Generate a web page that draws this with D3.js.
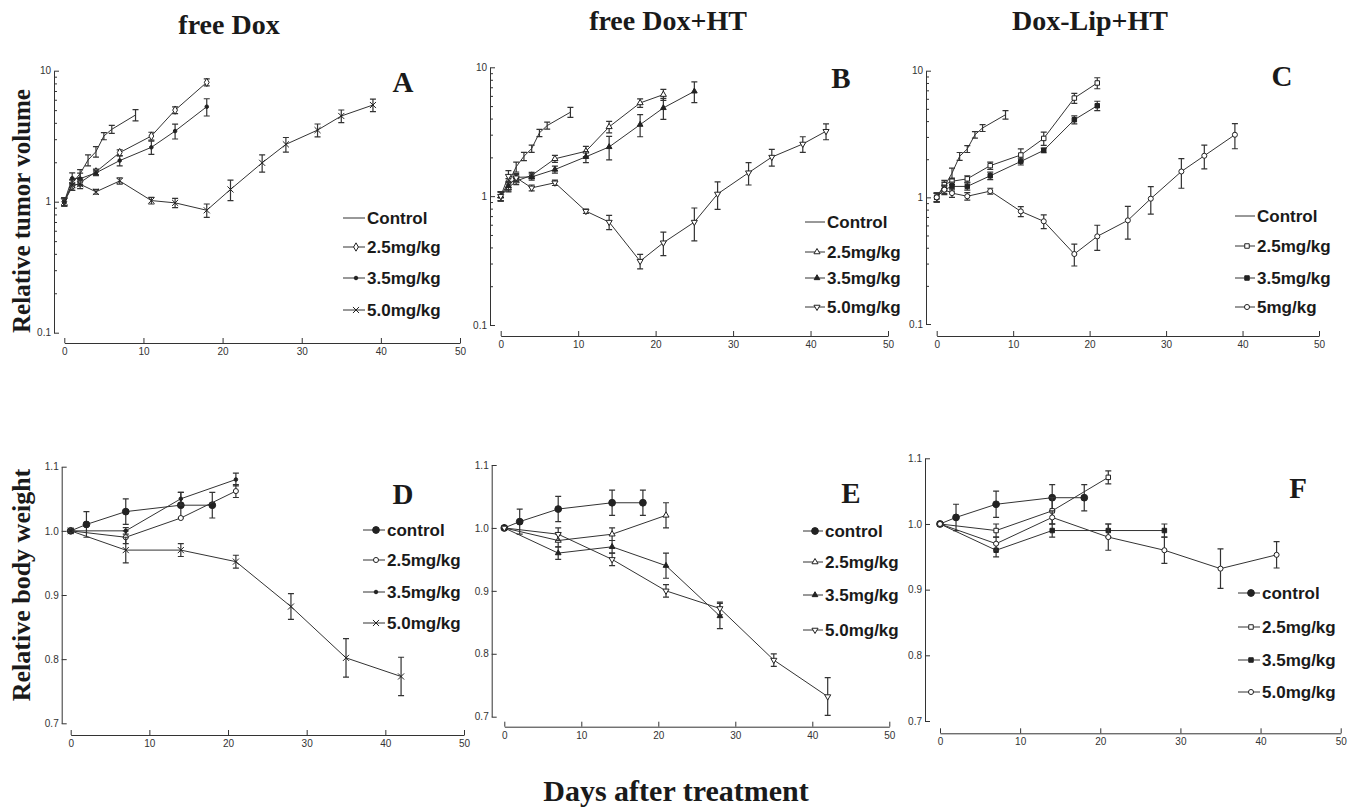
<!DOCTYPE html>
<html lang="en">
<head>
    <meta charset="UTF-8">
    <title>Relative tumor volume and body weight</title>
    <style>
        body { margin: 0; background: #fff; }
        svg { display: block; }
        .tick text { font-family: "Liberation Sans", Arial, sans-serif; font-size: 10px; fill: #333; }
        .domain, .tick line { stroke: #333; stroke-width: 1; }
        .title { font-family: "Liberation Serif", "Times New Roman", serif; font-weight: bold; fill: #1a1a1a; }
        .legend text { font-family: "Liberation Sans", Arial, sans-serif; font-weight: bold; font-size: 17px; fill: #1a1a1a; }
    </style>
    <script src="https://d3js.org/d3.v7.min.js"></script>
</head>
<body>
<svg width="1357" height="808"></svg>
<script>
// days
const tumorCtrlDays = [0, 1, 2, 3, 4, 5, 6, 9];
const tumorDoseDays = [0, 1, 2, 4, 7, 11, 14, 18, 21, 25, 28, 32, 35, 39, 42];
const weightCtrlDays = [0, 2, 7, 14, 18];
const weightDoseDays = [0, 7, 14, 21, 28, 35, 42];

// A: free Dox, tumor volume
const ctrlA = [1.0, 1.38, 1.64, 2.08, 2.41, 3.17, 3.57, 4.59];
const ctrlAErr = [0.07, 0.1, 0.12, 0.2, 0.22, 0.2, 0.25, 0.45];
const d25A = [1.0, 1.30, 1.40, 1.69, 2.37, 3.17, 5.0, 8.15];
const d25AErr = [0.07, 0.08, 0.08, 0.08, 0.12, 0.22, 0.3, 0.5];
const d35A = [1.0, 1.51, 1.50, 1.66, 2.06, 2.60, 3.46, 5.31];
const d35AErr = [0.07, 0.15, 0.15, 0.08, 0.18, 0.3, 0.45, 0.8];
const d50A = [1.0, 1.34, 1.36, 1.19, 1.44, 1.02, 0.98, 0.86, 1.24, 1.98, 2.74, 3.52, 4.51, 5.47];
const d50AErr = [0.07, 0.12, 0.1, 0.05, 0.08, 0.06, 0.08, 0.1, 0.22, 0.3, 0.35, 0.4, 0.5, 0.6];

// B: free Dox+HT, tumor volume
const ctrlB = [1.0, 1.27, 1.69, 2.04, 2.34, 3.10, 3.53, 4.48];
const ctrlBErr = [0.08, 0.1, 0.15, 0.15, 0.15, 0.2, 0.22, 0.4];
const d25B = [1.0, 1.16, 1.31, 1.45, 1.95, 2.23, 3.45, 5.29, 6.14];
const d25BErr = [0.08, 0.08, 0.08, 0.08, 0.12, 0.2, 0.35, 0.4, 0.6];
const d35B = [1.0, 1.20, 1.40, 1.41, 1.61, 2.02, 2.41, 3.59, 4.84, 6.51];
const d35BErr = [0.08, 0.1, 0.1, 0.08, 0.1, 0.2, 0.5, 0.7, 0.9, 1.2];
const d50B = [1.0, 1.43, 1.39, 1.16, 1.27, 0.765, 0.629, 0.313, 0.435, 0.629, 1.04, 1.52, 2.01, 2.54, 3.19];
const d50BErr = [0.08, 0.15, 0.08, 0.06, 0.06, 0.03, 0.08, 0.04, 0.09, 0.18, 0.25, 0.3, 0.3, 0.35, 0.45];

// C: Dox-Lip+HT, tumor volume
const ctrlC = [1.0, 1.22, 1.55, 2.11, 2.41, 3.12, 3.53, 4.49];
const ctrlCErr = [0.08, 0.1, 0.15, 0.15, 0.15, 0.18, 0.22, 0.35];
const d25C = [1.0, 1.26, 1.34, 1.40, 1.78, 2.16, 2.92, 6.08, 8.0];
const d25CErr = [0.08, 0.1, 0.08, 0.08, 0.12, 0.25, 0.35, 0.55, 0.8];
const d35C = [1.0, 1.15, 1.22, 1.22, 1.48, 1.92, 2.35, 4.10, 5.29];
const d35CErr = [0.08, 0.1, 0.1, 0.08, 0.1, 0.12, 0.1, 0.3, 0.45];
const d50C = [1.0, 1.15, 1.08, 1.02, 1.12, 0.775, 0.647, 0.357, 0.492, 0.658, 0.976, 1.60, 2.13, 3.12];
const d50CErr = [0.08, 0.08, 0.08, 0.07, 0.06, 0.07, 0.08, 0.07, 0.11, 0.19, 0.24, 0.42, 0.45, 0.7];

// D: free Dox, body weight
const ctrlD = [1.0, 1.01, 1.03, 1.04, 1.04];
const ctrlDErr = [0, 0.02, 0.02, 0.02, 0.02];
const d25D = [1.0, 0.99, 1.02, 1.062];
const d25DErr = [0, 0.01, 0.0, 0.01];
const d35D = [1.0, 1.0, 1.05, 1.08];
const d35DErr = [0, 0.005, 0.01, 0.01];
const d50D = [1.0, 0.97, 0.97, 0.952, 0.882, 0.802, 0.773];
const d50DErr = [0, 0.02, 0.01, 0.01, 0.02, 0.03, 0.03];

// E: free Dox+HT, body weight
const ctrlE = [1.0, 1.01, 1.03, 1.04, 1.04];
const ctrlEErr = [0, 0.02, 0.02, 0.02, 0.02];
const d25E = [1.0, 0.98, 0.99, 1.02];
const d25EErr = [0, 0.01, 0.01, 0.02];
const d35E = [1.0, 0.96, 0.97, 0.94, 0.86];
const d35EErr = [0, 0.01, 0.01, 0.02, 0.02];
const d50E = [1.0, 0.99, 0.95, 0.90, 0.872, 0.79, 0.732];
const d50EErr = [0, 0.01, 0.01, 0.01, 0.01, 0.01, 0.03];

// F: Dox-Lip+HT, body weight
const ctrlF = [1.0, 1.01, 1.03, 1.04, 1.04];
const ctrlFErr = [0, 0.02, 0.02, 0.02, 0.02];
const d25F = [1.0, 0.99, 1.02, 1.071];
const d25FErr = [0, 0.01, 0.02, 0.01];
const d35F = [1.0, 0.96, 0.99, 0.99, 0.99];
const d35FErr = [0, 0.01, 0.01, 0.01, 0.01];
const d50F = [1.0, 0.97, 1.01, 0.98, 0.96, 0.932, 0.953];
const d50FErr = [0, 0.01, 0.01, 0.02, 0.02, 0.03, 0.02];

const columnTitles = ["free Dox", "free Dox+HT", "Dox-Lip+HT"];
const tumorLabels = ["Control", "2.5mg/kg", "3.5mg/kg", "5.0mg/kg"];
const tumorLabelsC = ["Control", "2.5mg/kg", "3.5mg/kg", "5mg/kg"];
const weightLabels = ["control", "2.5mg/kg", "3.5mg/kg", "5.0mg/kg"];
const xTicks = [0, 10, 20, 30, 40, 50];
const logTicks = [0.1, 1, 10];
const linTicks = [0.7, 0.8, 0.9, 1.0, 1.1];

const svg = d3.select("svg");
const ink = "#222";

// build series from the arrays
function series(days, vals, errs, marker) {
    return { marker, pts: vals.map((v, i) => ({ d: days[i], v, e: errs[i] })) };
}

const panels = [
    { letter: "A", log: true, labels: tumorLabels,
      x: [64.3, 460], y: [332.7, 70.7], axX: 54, axY: 343, letterPos: [403, 92],
      leg: { x0: 343, x1: 365, ys: [218, 247, 278, 310] },
      series: [series(tumorCtrlDays, ctrlA, ctrlAErr, "none"),
               series(tumorDoseDays, d25A, d25AErr, "diamondOpen"),
               series(tumorDoseDays, d35A, d35AErr, "dot"),
               series(tumorDoseDays, d50A, d50AErr, "cross")] },
    { letter: "B", log: true, labels: tumorLabels,
      x: [500.7, 888], y: [325, 67.3], axX: 490, axY: 336, letterPos: [841, 88],
      leg: { x0: 805, x1: 825, ys: [222, 252, 278, 307] },
      series: [series(tumorCtrlDays, ctrlB, ctrlBErr, "none"),
               series(tumorDoseDays, d25B, d25BErr, "triUpOpen"),
               series(tumorDoseDays, d35B, d35BErr, "triUpFilled"),
               series(tumorDoseDays, d50B, d50BErr, "triDownOpen")] },
    { letter: "C", log: true, labels: tumorLabelsC,
      x: [936.7, 1319], y: [324, 70.7], axX: 926, axY: 336, letterPos: [1282, 86],
      leg: { x0: 1235, x1: 1255, ys: [216, 246, 278, 307] },
      series: [series(tumorCtrlDays, ctrlC, ctrlCErr, "none"),
               series(tumorDoseDays, d25C, d25CErr, "squareOpen"),
               series(tumorDoseDays, d35C, d35CErr, "squareFilled"),
               series(tumorDoseDays, d50C, d50CErr, "circleOpen")] },
    { letter: "D", log: false, labels: weightLabels,
      x: [70.7, 464], y: [723.3, 466.7], axX: 61.7, axY: 735, letterPos: [403, 504],
      leg: { x0: 363, x1: 385, ys: [530, 560, 592, 623] },
      series: [series(weightCtrlDays, ctrlD, ctrlDErr, "bigDot"),
               series(weightDoseDays, d25D, d25DErr, "circleOpen"),
               series(weightDoseDays, d35D, d35DErr, "dot"),
               series(weightDoseDays, d50D, d50DErr, "cross")] },
    { letter: "E", log: false, labels: weightLabels,
      x: [504.3, 889.3], y: [716.7, 465], axX: 491.7, axY: 726.7, letterPos: [851, 503],
      leg: { x0: 803, x1: 823, ys: [531, 562, 595, 630] },
      series: [series(weightCtrlDays, ctrlE, ctrlEErr, "bigDot"),
               series(weightDoseDays, d25E, d25EErr, "triUpOpen"),
               series(weightDoseDays, d35E, d35EErr, "triUpFilled"),
               series(weightDoseDays, d50E, d50EErr, "triDownOpen")] },
    { letter: "F", log: false, labels: weightLabels,
      x: [940, 1340.7], y: [721, 458.3], axX: 925, axY: 733.3, letterPos: [1298, 498],
      leg: { x0: 1238, x1: 1260, ys: [593, 627, 660, 692] },
      series: [series(weightCtrlDays, ctrlF, ctrlFErr, "bigDot"),
               series(weightDoseDays, d25F, d25FErr, "squareOpen"),
               series(weightDoseDays, d35F, d35FErr, "squareFilled"),
               series(weightDoseDays, d50F, d50FErr, "circleOpen")] }
];

// marker shapes
function drawMarker(g, type, cx, cy) {
    const sym = {
        diamondOpen: [d3.symbolDiamond, 20, false],
        dot: [d3.symbolCircle, 10, true],
        cross: [d3.symbolX, 26, false],
        triUpOpen: [d3.symbolTriangle, 16, false],
        triUpFilled: [d3.symbolTriangle, 14, true],
        triDownOpen: [d3.symbolTriangle, 16, false],
        squareOpen: [d3.symbolSquare, 20, false],
        squareFilled: [d3.symbolSquare, 20, true],
        circleOpen: [d3.symbolCircle, 20, false],
        bigDot: [d3.symbolCircle, 36, true]
    }[type];
    if (!sym) return;
    const rot = type === "triDownOpen" ? " rotate(180)" : "";
    g.append("path")
        .attr("d", d3.symbol().type(sym[0]).size(sym[1])())
        .attr("transform", `translate(${cx},${cy})${rot}`)
        .attr("fill", sym[2] ? ink : "#fff")
        .attr("stroke", ink)
        .attr("stroke-width", 1);
}

panels.forEach(p => {
    const g = svg.append("g");
    const x = d3.scaleLinear().domain([0, 50]).range(p.x);
    const y = p.log ? d3.scaleLog().domain([0.1, 10]).range(p.y)
                    : d3.scaleLinear().domain([0.7, 1.1]).range(p.y);

    // x axis (detached, ticks pointing up)
    g.append("g")
        .attr("transform", `translate(0,${p.axY})`)
        .call(d3.axisBottom(x).tickValues(xTicks).tickSize(-5).tickSizeOuter(0).tickPadding(5));

    // y axis (ticks pointing inward)
    const ya = g.append("g").attr("transform", `translate(${p.axX},0)`);
    if (p.log) {
        ya.call(d3.axisLeft(y).tickValues(logTicks).tickSize(-5).tickSizeOuter(0).tickPadding(3)
            .tickFormat(d => d3.format("~g")(d)));
        const minor = [];
        [0.1, 1].forEach(b => { for (let k = 2; k <= 9; k++) minor.push(b * k); });
        ya.append("g").call(d3.axisLeft(y).tickValues(minor).tickSize(-3).tickFormat(""))
            .select(".domain").remove();
    } else {
        ya.call(d3.axisLeft(y).tickValues(linTicks).tickSize(-5).tickSizeOuter(0).tickPadding(3)
            .tickFormat(d3.format(".1f")));
    }

    const line = d3.line().x(d => x(d.d)).y(d => y(d.v));

    p.series.forEach(s => {
        g.append("path")
            .attr("d", line(s.pts))
            .attr("fill", "none")
            .attr("stroke", "#333")
            .attr("stroke-width", 1);
        s.pts.forEach(pt => {
            if (pt.e > 0) {
                const lo = y(pt.v - pt.e), hi = y(pt.v + pt.e), cx = x(pt.d);
                g.append("path")
                    .attr("d", `M${cx},${lo}V${hi}M${cx - 3},${lo}H${cx + 3}M${cx - 3},${hi}H${cx + 3}`)
                    .attr("stroke", "#333")
                    .attr("stroke-width", 1.2)
                    .attr("fill", "none");
            }
        });
        s.pts.forEach(pt => drawMarker(g, s.marker, x(pt.d), y(pt.v)));
    });

    // legend
    const lg = g.append("g").attr("class", "legend");
    p.series.forEach((s, i) => {
        const yy = p.leg.ys[i];
        lg.append("line")
            .attr("x1", p.leg.x0).attr("x2", p.leg.x1)
            .attr("y1", yy).attr("y2", yy)
            .attr("stroke", "#333").attr("stroke-width", 1);
        drawMarker(lg, s.marker, (p.leg.x0 + p.leg.x1) / 2 + 2, yy);
        lg.append("text")
            .attr("x", p.leg.x1 + 2)
            .attr("y", yy + 6)
            .text(p.labels[i]);
    });

    g.append("text")
        .attr("class", "title")
        .attr("x", p.letterPos[0])
        .attr("y", p.letterPos[1])
        .attr("text-anchor", "middle")
        .attr("font-size", 29)
        .text(p.letter);
});

// column titles
[229, 668, 1090].forEach((cx, i) => {
    svg.append("text")
        .attr("class", "title")
        .attr("x", cx).attr("y", i === 0 ? 34 : 30)
        .attr("text-anchor", "middle")
        .attr("font-size", 28)
        .text(columnTitles[i]);
});

// axis titles
svg.append("text")
    .attr("class", "title")
    .attr("transform", "translate(30,211) rotate(-90)")
    .attr("text-anchor", "middle")
    .attr("font-size", 25)
    .text("Relative tumor volume");
svg.append("text")
    .attr("class", "title")
    .attr("transform", "translate(30,585) rotate(-90)")
    .attr("text-anchor", "middle")
    .attr("font-size", 26)
    .text("Relative body weight");
svg.append("text")
    .attr("class", "title")
    .attr("x", 676).attr("y", 801)
    .attr("text-anchor", "middle")
    .attr("font-size", 30)
    .text("Days after treatment");
</script>
</body>
</html>
